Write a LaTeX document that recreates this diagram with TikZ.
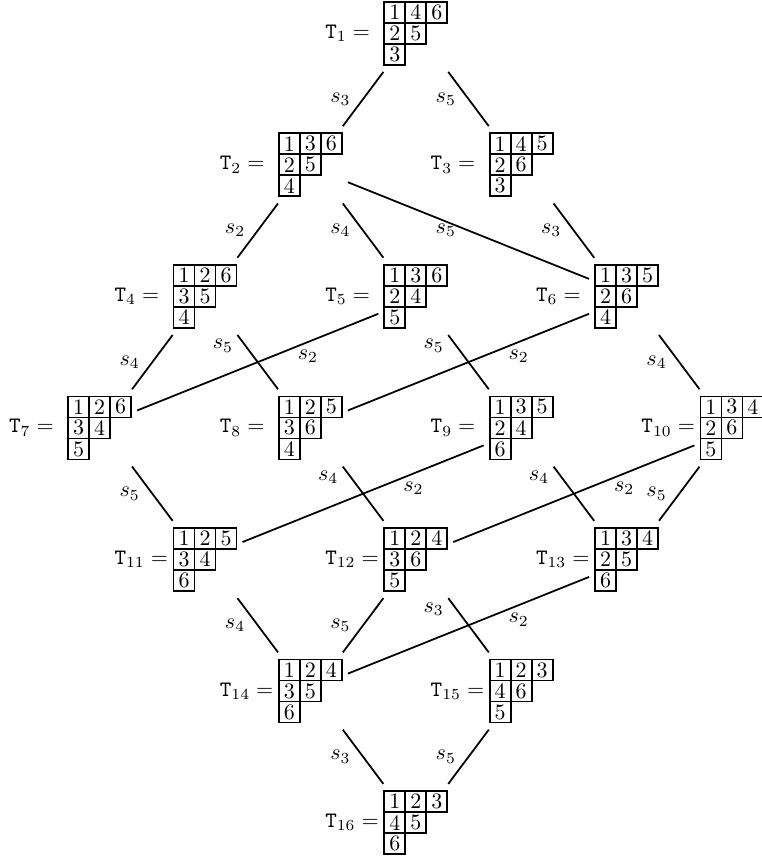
\documentclass[tikz,border=0pt]{standalone}
\usepackage{amsmath}
\usepackage{tikz}
\usetikzlibrary{matrix}
\usetikzlibrary{positioning}
\newcommand{\tT}[1]{\ensuremath{\mathtt{T}_{#1} =}}

\begin{document}
\begin{tikzpicture}[node distance=59.8pt and 47.9pt,on grid,line width=0.8pt,
		tab/.style={matrix of nodes,inner sep=0pt,outer sep=0pt,column sep=-0.8pt,row sep=-0.8pt,
			nodes={draw,minimum size=9.55pt,inner sep=0pt,anchor=center}},
		lab/.style={anchor=west,draw=none,minimum size=0pt,inner sep=0pt,xshift=-26.8pt},
		cross/.style={shorten <=2.5pt,shorten >=2.5pt}]
		\useasboundingbox (-189pt,15.1pt) rectangle (156.9pt,-375.8pt);
		
		\matrix (t1)  [tab,label={[lab]west:\tT{1}}]                       {1 & 4 & 6 \\ 2 & 5 \\ 3 \\};
		\matrix (t2)  [tab,below left=of t1,label={[lab]west:\tT{2}}]      {1 & 3 & 6 \\ 2 & 5 \\ 4 \\};
		\matrix (t3)  [tab,below right=of t1,label={[lab]west:\tT{3}}]     {1 & 4 & 5 \\ 2 & 6 \\ 3 \\};
		\matrix (t4)  [tab,below left=of t2,label={[lab]west:\tT{4}}]      {1 & 2 & 6 \\ 3 & 5 \\ 4 \\};
		\matrix (t5)  [tab,below right=of t2,label={[lab]west:\tT{5}}]     {1 & 3 & 6 \\ 2 & 4 \\ 5 \\};
		\matrix (t6)  [tab,below right=of t3,label={[lab]west:\tT{6}}]     {1 & 3 & 5 \\ 2 & 6 \\ 4 \\};
		\matrix (t7)  [tab,below left=of t4,label={[lab]west:\tT{7}}]      {1 & 2 & 6 \\ 3 & 4 \\ 5 \\};
		\matrix (t8)  [tab,below right=of t4,label={[lab]west:\tT{8}}]     {1 & 2 & 5 \\ 3 & 6 \\ 4 \\};
		\matrix (t9)  [tab,below right=of t5,label={[lab]west:\tT{9}}]     {1 & 3 & 5 \\ 2 & 4 \\ 6 \\};
		\matrix (t10) [tab,below right=of t6,label={[lab]west:\tT{10}}]    {1 & 3 & 4 \\ 2 & 6 \\ 5 \\};
		\matrix (t11) [tab,below right=of t7,label={[lab]west:\tT{11}}]    {1 & 2 & 5 \\ 3 & 4 \\ 6 \\};
		\matrix (t12) [tab,below right=of t8,label={[lab]west:\tT{12}}]    {1 & 2 & 4 \\ 3 & 6 \\ 5 \\};
		\matrix (t13) [tab,below right=of t9,label={[lab]west:\tT{13}}]    {1 & 3 & 4 \\ 2 & 5 \\ 6 \\};
		\matrix (t14) [tab,below right=of t11,label={[lab]west:\tT{14}}]   {1 & 2 & 4 \\ 3 & 5 \\ 6 \\};
		\matrix (t15) [tab,below right=of t12,label={[lab]west:\tT{15}}]   {1 & 2 & 3 \\ 4 & 6 \\ 5 \\};
		\matrix (t16) [tab,below right=of t14,label={[lab]west:\tT{16}}]   {1 & 2 & 3 \\ 4 & 5 \\ 6 \\};
		
		\path
		([yshift=-1mm]t1.south west) edge node[left=2pt] {$s_3$} ([yshift=1mm]t2.north east)
		([yshift=-1mm]t1.south east) edge node[left=2pt] {$s_5$} ([yshift=1mm]t3.north west)
		([yshift=-1mm]t2.south west) edge node[left=2pt] {$s_2$} ([yshift=1mm]t4.north east)
		([yshift=-1mm]t2.south east) edge node[left=2pt] {$s_4$} ([yshift=1mm]t5.north west)
		([yshift=-7pt]t2.east) edge[cross] node[left=2pt] {$s_5$} ([yshift=7pt]t6.west)
		([yshift=-1mm]t3.south east) edge node[left=2pt] {$s_3$} ([yshift=1mm]t6.north west)
		([yshift=-1mm]t4.south west) edge node[left=2pt] {$s_4$} ([yshift=1mm]t7.north east)
		([yshift=-1mm]t4.south east) edge node[left=2pt,pos=0.2] {$s_5$} ([yshift=1mm]t8.north west)
		([yshift=-7pt]t5.west) edge[cross] node[below,pos=0.3] {$s_2$} ([yshift=7pt]t7.east)
		([yshift=-1mm]t5.south east) edge node[left=2pt,pos=0.2] {$s_5$} ([yshift=1mm]t9.north west)
		([yshift=-7pt]t6.west) edge[cross] node[below,pos=0.3] {$s_2$} ([yshift=7pt]t8.east)
		([yshift=-1mm]t6.south east) edge node[left=2pt] {$s_4$} ([yshift=1mm]t10.north west)
		([yshift=-1mm]t7.south east) edge node[left=2pt] {$s_5$} ([yshift=1mm]t11.north west)
		([yshift=-1mm]t8.south east) edge node[left=2pt,pos=0.2] {$s_4$} ([yshift=1mm]t12.north west)
		([yshift=-7pt]t9.west) edge[cross] node[below,pos=0.3] {$s_2$} ([yshift=7pt]t11.east)
		([yshift=-1mm]t9.south east) edge node[left=2pt,pos=0.2] {$s_4$} ([yshift=1mm]t13.north west)
		([yshift=-7pt]t10.west) edge[cross] node[below,pos=0.3] {$s_2$} ([yshift=7pt]t12.east)
		([yshift=-1mm]t10.south west) edge node[left=2pt] {$s_5$} ([yshift=1mm]t13.north east)
		([yshift=-1mm]t11.south east) edge node[left=2pt] {$s_4$} ([yshift=1mm]t14.north west)
		([yshift=-1mm]t12.south west) edge node[left=2pt] {$s_5$} ([yshift=1mm]t14.north east)
		([yshift=-1mm]t12.south east) edge node[left=2pt,pos=0.2] {$s_3$} ([yshift=1mm]t15.north west)
		([yshift=-7pt]t13.west) edge[cross] node[below,pos=0.3] {$s_2$} ([yshift=7pt]t14.east)
		([yshift=-1mm]t14.south east) edge node[left=2pt] {$s_3$} ([yshift=1mm]t16.north west)
		([yshift=-1mm]t15.south west) edge node[left=2pt] {$s_5$} ([yshift=1mm]t16.north east);
\end{tikzpicture}
\end{document}
